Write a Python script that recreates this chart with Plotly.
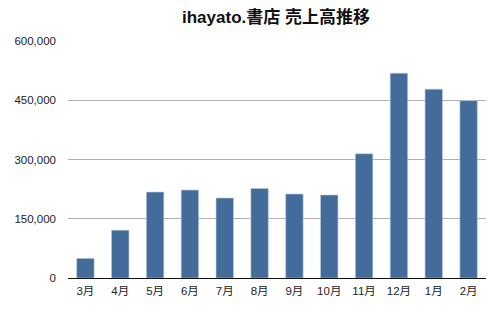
import plotly.graph_objects as go

months = ["3月", "4月", "5月", "6月", "7月", "8月", "9月", "10月", "11月", "12月", "1月", "2月"]
sales = [49600, 121000, 217500, 222600, 202400, 226600, 212500, 210000, 314400, 518500, 478000, 449000]
y_ticks = [0, 150000, 300000, 450000, 600000]

FONT = "Liberation Sans, Arial, Noto Sans CJK JP, sans-serif"

fig = go.Figure(go.Bar(
    x=months, y=sales,
    marker=dict(color="#436C9B", line=dict(color="#B9C9DC", width=0.6)),
    hoverinfo="x+y",
))

fig.update_layout(
    width=500, height=316,
    margin=dict(l=68, r=14, t=41, b=38),
    paper_bgcolor="white", plot_bgcolor="white",
    bargap=0.5,
    showlegend=False,
    font=dict(family=FONT, size=11.5, color="#222"),
    title=dict(text="<b>ihayato.書店 売上高推移</b>", x=0.552, xanchor="center",
               y=0.945, yanchor="middle", font=dict(family=FONT, size=17, color="#111")),
)
fig.update_yaxes(range=[0, 600000], tickvals=y_ticks, tickformat=",d",
                 showgrid=True, gridcolor="#B0B0B0", gridwidth=1,
                 zeroline=False, showline=False, ticks="", ticklabelstandoff=11)
fig.update_xaxes(showline=True, linecolor="#111", linewidth=1.2, ticks="",
                 showgrid=False, ticklabelstandoff=2)

fig.write_html("out.html")
